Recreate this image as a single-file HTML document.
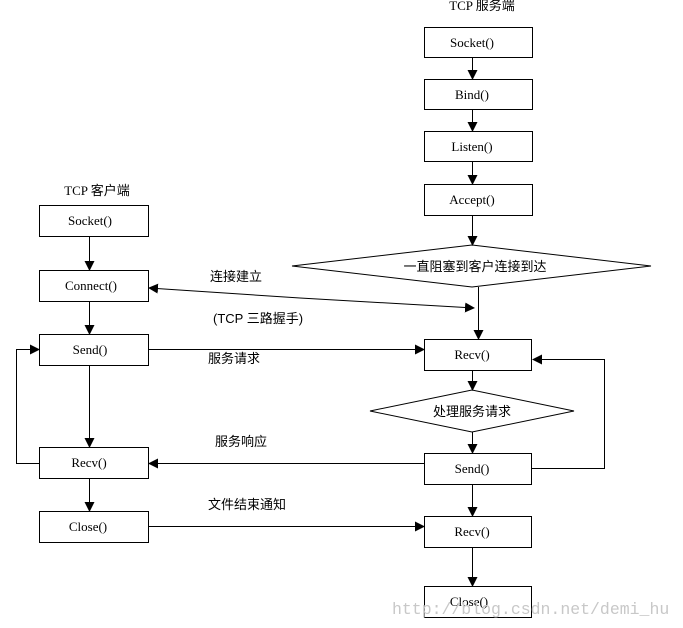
<!DOCTYPE html>
<html><head><meta charset="utf-8"><style>
html,body{margin:0;padding:0;background:#fff;width:683px;height:628px;overflow:hidden}
svg text{font-family:"Liberation Serif","Noto Sans CJK SC",serif;font-size:13px;fill:#000}
.c{font-family:"Liberation Sans","Noto Sans CJK SC",sans-serif;font-size:13px}
</style></head><body>
<svg width="683" height="628" viewBox="0 0 683 628" xmlns="http://www.w3.org/2000/svg">
<defs><marker id="a" markerWidth="10" markerHeight="10" refX="9" refY="5" orient="auto" markerUnits="userSpaceOnUse"><path d="M0,0 L10,5 L0,10 z" fill="#000"/></marker></defs>
<g fill="#fff" stroke="#000" stroke-width="1">
<rect x="424.5" y="27.5" width="108" height="30"/>
<rect x="424.5" y="79.5" width="108" height="30"/>
<rect x="424.5" y="131.5" width="108" height="30"/>
<rect x="424.5" y="184.5" width="108" height="31"/>
<polygon points="292,266 472,245 651,266 472,287"/>
<rect x="424.5" y="339.5" width="107" height="31"/>
<polygon points="370,411 472,390 574,411 472,432"/>
<rect x="424.5" y="453.5" width="107" height="31"/>
<rect x="424.5" y="516.5" width="107" height="31"/>
<rect x="424.5" y="586.5" width="107" height="31"/>
<rect x="39.5" y="205.5" width="109" height="31"/>
<rect x="39.5" y="270.5" width="109" height="31"/>
<rect x="39.5" y="334.5" width="109" height="31"/>
<rect x="39.5" y="447.5" width="109" height="31"/>
<rect x="39.5" y="511.5" width="109" height="31"/>
</g>
<g stroke="#000" stroke-width="1" fill="none" marker-end="url(#a)">
<line x1="472.5" y1="58" x2="472.5" y2="79"/>
<line x1="472.5" y1="110" x2="472.5" y2="131"/>
<line x1="472.5" y1="162" x2="472.5" y2="184"/>
<line x1="472.5" y1="216" x2="472.5" y2="245"/>
<line x1="478.5" y1="287" x2="478.5" y2="339"/>
<line x1="472.5" y1="371" x2="472.5" y2="390"/>
<line x1="472.5" y1="432" x2="472.5" y2="453"/>
<line x1="472.5" y1="485" x2="472.5" y2="516"/>
<line x1="472.5" y1="548" x2="472.5" y2="586"/>
<polyline points="532,468.5 604.5,468.5 604.5,359.5 533,359.5"/>
<line x1="89.5" y1="237" x2="89.5" y2="270"/>
<line x1="89.5" y1="302" x2="89.5" y2="334"/>
<line x1="89.5" y1="366" x2="89.5" y2="447"/>
<line x1="89.5" y1="479" x2="89.5" y2="511"/>
<polyline points="39,463.5 16.5,463.5 16.5,349.5 39,349.5"/>
<line x1="149" y1="349.5" x2="424" y2="349.5"/>
<line x1="424" y1="463.5" x2="149" y2="463.5"/>
<line x1="149" y1="526.5" x2="424" y2="526.5"/>
<line x1="300" y1="298" x2="474" y2="308"/>
<line x1="300" y1="298" x2="149" y2="288"/>
</g>
<g text-anchor="middle">
<text x="472" y="47">Socket()</text>
<text x="472" y="99">Bind()</text>
<text x="472" y="151">Listen()</text>
<text x="472" y="204">Accept()</text>
<text x="472" y="359">Recv()</text>
<text x="472" y="473">Send()</text>
<text x="472" y="536">Recv()</text>
<text x="469" y="606">Close()</text>
<text x="90" y="225">Socket()</text>
<text x="91" y="290">Connect()</text>
<text x="90" y="354">Send()</text>
<text x="89" y="467">Recv()</text>
<text x="88" y="531">Close()</text>
<text x="482" y="10">TCP 服务端</text>
<text x="97" y="195">TCP 客户端</text>
<text class="c" x="475" y="271">一直阻塞到客户连接到达</text>
<text class="c" x="472" y="416">处理服务请求</text>
</g>
<text class="c" x="210" y="281">连接建立</text>
<text class="c" x="213" y="323">(TCP 三路握手)</text>
<text class="c" x="208" y="363">服务请求</text>
<text class="c" x="215" y="446">服务响应</text>
<text class="c" x="208" y="509">文件结束通知</text>
<text x="392" y="614" style="font-family:'Liberation Mono',monospace;font-size:16.5px;fill:#c8c8c8">http://blog.csdn.net/demi_hu</text>
</svg>
</body></html>
